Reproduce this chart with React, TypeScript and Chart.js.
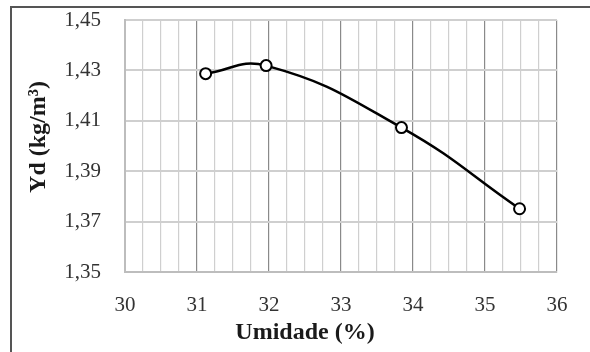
import React, { useEffect, useRef } from "react";
import { Chart, registerables } from "chart.js";

Chart.register(...registerables);

const umidade = [31.12, 31.96, 33.84, 35.48];
const yd = [1.4287, 1.4319, 1.4073, 1.3751];
const xTitle = "Umidade (%)";
const yTitle = "Yd (kg/m³)";

export default function App() {
  const ref = useRef<HTMLCanvasElement | null>(null);
  useEffect(() => {
    if (!ref.current) return;
    const fontFamily = "'Liberation Serif', 'Times New Roman', serif";
    const chart = new Chart(ref.current, {
      type: "scatter",
      data: {
        datasets: [
          {
            data: umidade.map((x, i) => ({ x, y: yd[i] })),
            showLine: true,
            borderColor: "#000",
            borderWidth: 2.5,
            tension: 0.45,
            pointRadius: 5.5,
            pointBorderWidth: 2,
            pointBackgroundColor: "#fff",
            pointBorderColor: "#000",
          },
        ],
      },
      options: {
        animation: false,
        responsive: false,
        layout: { padding: { top: 20, right: 33, left: 0, bottom: 0 } },
        plugins: { legend: { display: false }, tooltip: { enabled: false } },
        scales: {
          x: {
            type: "linear",
            min: 30,
            max: 36,
            afterFit: (s: any) => {
              s.height = 80;
            },
            afterBuildTicks: (s: any) => {
              const t = [];
              for (let k = 0; k <= 24; k++) t.push({ value: 30 + k * 0.25 });
              s.ticks = t;
            },
            ticks: {
              autoSkip: false,
              maxRotation: 0,
              padding: 21,
              color: "#333",
              font: { family: fontFamily, size: 21 },
              callback: (v: any) => (Math.abs(v - Math.round(v)) < 1e-6 ? String(Math.round(v)) : ""),
            },
            grid: {
              drawTicks: false,
              color: (c: any) =>
                c.tick && Math.abs(c.tick.value - Math.round(c.tick.value)) < 1e-6 ? "#8a8a8a" : "#cfcfcf",
              lineWidth: 1.2,
            },
            border: { display: true, color: "#bdbdbd", width: 2 },
            title: {
              display: true,
              text: xTitle + "            ",
              color: "#1a1a1a",
              font: { family: fontFamily, size: 24, weight: "bold" },
              padding: { top: 0, bottom: 5 },
            },
          },
          y: {
            type: "linear",
            min: 1.35,
            max: 1.45,
            afterFit: (s: any) => {
              s.width = 125;
            },
            afterBuildTicks: (s: any) => {
              const t = [];
              for (let k = 0; k <= 5; k++) t.push({ value: 1.35 + k * 0.02 });
              s.ticks = t;
            },
            ticks: {
              padding: 0,
              color: "#333",
              font: { family: fontFamily, size: 21 },
              callback: (v: any) => Number(v).toFixed(2).replace(".", ","),
            },
            grid: {
              drawTicks: true,
              tickLength: 24,
              tickColor: "rgba(0,0,0,0)",
              color: "#cfcfcf",
              lineWidth: 2,
            },
            border: { display: true, color: "#bdbdbd", width: 2 },
            title: {
              display: true,
              text: "   " + yTitle,
              color: "#1a1a1a",
              font: { family: fontFamily, size: 24, weight: "bold" },
              padding: { top: 24, bottom: 0 },
            },
          },
        },
      },
    });
    return () => chart.destroy();
  }, []);
  return (
    <div style={{ position: "fixed", left: 0, top: 0, width: 590, height: 352, background: "#fff" }}>
      <div
        style={{
          position: "absolute",
          left: 10,
          top: 6,
          width: 600,
          height: 400,
          borderTop: "2px solid #555",
          borderLeft: "2px solid #555",
        }}
      />
      <canvas ref={ref} width={590} height={352} style={{ position: "absolute", left: 0, top: 0 }} />
    </div>
  );
}
